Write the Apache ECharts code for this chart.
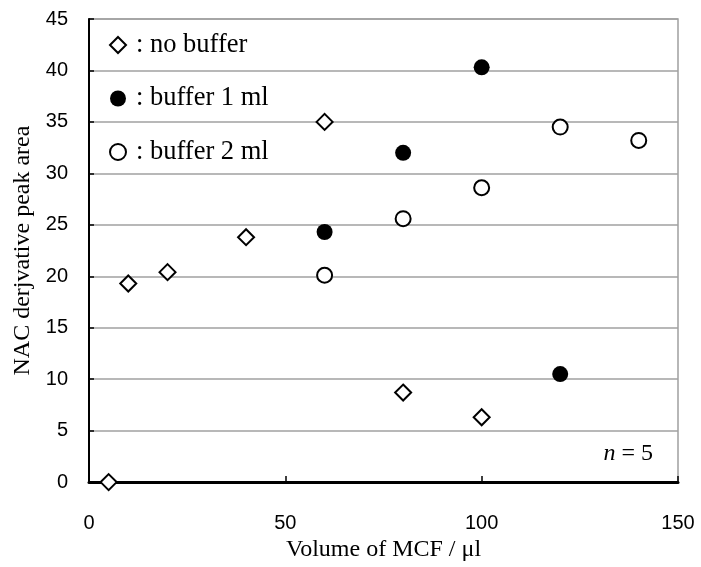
<!DOCTYPE html>
<html>
<head>
<meta charset="utf-8">
<script src="https://cdn.jsdelivr.net/npm/echarts@6/dist/echarts.min.js"></script>
<style>
  html, body { margin: 0; padding: 0; background: #fff; }
  #chart { width: 701px; height: 567px; }
</style>
</head>
<body>
<div id="chart"></div>
<script>
// MCF volume (µl) vs. NAC derivative peak area
const seriesNames = ['no buffer', 'buffer 1 ml', 'buffer 2 ml'];

const noBufferX = [5, 10, 20, 40, 60, 80, 100];
const noBufferY = [0, 19.3, 20.4, 23.8, 35.0, 8.7, 6.3];

const buffer1X = [60, 80, 100, 120];
const buffer1Y = [24.3, 32.0, 40.3, 10.5];

const buffer2X = [60, 80, 100, 120, 140];
const buffer2Y = [20.1, 25.6, 28.6, 34.5, 33.2];

const xTicks = [0, 50, 100, 150];
const yTicks = [0, 5, 10, 15, 20, 25, 30, 35, 40, 45];

const pairs = (xs, ys) => xs.map((x, i) => [x, ys[i]]);

const serif = '"Liberation Serif", "Times New Roman", serif';
const sans = '"Liberation Sans", Arial, sans-serif';

const chart = echarts.init(document.getElementById('chart'), null, { renderer: 'canvas' });

chart.setOption({
  animation: false,
  backgroundColor: '#ffffff',
  grid: {
    left: 89, right: 23, top: 19, bottom: 83.5,
    show: true,
    borderColor: '#a0a0a0',
    borderWidth: 1.5,
    backgroundColor: 'transparent'
  },
  legend: {
    orient: 'vertical',
    left: 104,
    top: 25,
    itemWidth: 16,
    itemHeight: 16,
    itemGap: 23.5,
    formatter: name => ': ' + name,
    textStyle: {
      fontFamily: serif,
      fontSize: 26.5,
      color: '#000',
      lineHeight: 30,
      padding: [0, 0, 0, 5]
    },
    data: seriesNames
  },
  xAxis: {
    type: 'value',
    min: xTicks[0],
    max: xTicks[xTicks.length - 1],
    interval: 50,
    name: 'Volume of MCF / μl',
    nameLocation: 'middle',
    nameGap: 55,
    nameTextStyle: { fontFamily: serif, fontSize: 24, color: '#000' },
    axisLine: { show: true, onZero: false, lineStyle: { color: '#000', width: 3 } },
    axisTick: { show: true, inside: true, length: 6, lineStyle: { color: '#000', width: 1.5 } },
    axisLabel: { margin: 31, fontFamily: sans, fontSize: 20, color: '#000' },
    splitLine: { show: false }
  },
  yAxis: {
    type: 'value',
    min: yTicks[0],
    max: yTicks[yTicks.length - 1],
    interval: 5,
    name: 'NAC derjvative peak area',
    nameLocation: 'middle',
    nameGap: 54,
    nameTextStyle: { fontFamily: serif, fontSize: 24, color: '#000' },
    axisLine: { show: true, onZero: false, lineStyle: { color: '#000', width: 2 } },
    axisTick: { show: true, inside: true, length: 5, lineStyle: { color: '#000', width: 1.5 } },
    axisLabel: { margin: 21, fontFamily: sans, fontSize: 20, color: '#000' },
    splitLine: { show: true, lineStyle: { color: '#a0a0a0', width: 1.5 } }
  },
  series: [
    {
      name: seriesNames[0],
      type: 'scatter',
      symbol: 'diamond',
      symbolSize: 16,
      itemStyle: { color: '#ffffff', borderColor: '#000', borderWidth: 2, opacity: 1 },
      data: pairs(noBufferX, noBufferY),
      z: 3
    },
    {
      name: seriesNames[1],
      type: 'scatter',
      symbol: 'circle',
      symbolSize: 16,
      itemStyle: { color: '#000', borderColor: '#000', borderWidth: 0, opacity: 1 },
      data: pairs(buffer1X, buffer1Y),
      z: 3
    },
    {
      name: seriesNames[2],
      type: 'scatter',
      symbol: 'circle',
      symbolSize: 15,
      itemStyle: { color: '#ffffff', borderColor: '#000', borderWidth: 2, opacity: 1 },
      data: pairs(buffer2X, buffer2Y),
      z: 3
    }
  ],
  graphic: [
    {
      type: 'text',
      right: 48,
      top: 442,
      style: {
        text: '{i|n} = 5',
        font: '24px ' + serif,
        fill: '#000',
        rich: {
          i: { fontFamily: serif, fontSize: 24, fontStyle: 'italic', fill: '#000' }
        }
      }
    }
  ]
});
</script>
</body>
</html>
